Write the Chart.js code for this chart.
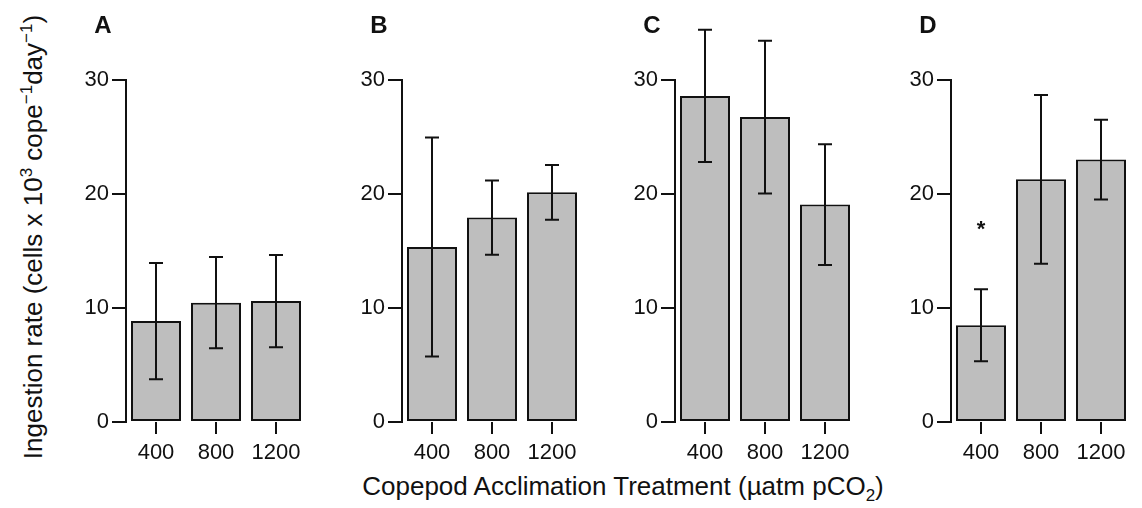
<!DOCTYPE html>
<html lang="en">
<head>
    <script src="https://cdn.jsdelivr.net/npm/chart.js"></script>
    <meta charset="UTF-8">
    <title>Ingestion rate by acclimation treatment</title>
    <style>
        body {
            margin: 0;
            background: #fff;
            font-family: "Liberation Sans", Arial, sans-serif;
            color: #111;
        }
        #wrap {
            position: relative;
            width: 1142px;
            height: 508px;
            overflow: hidden;
        }
        .panel {
            position: absolute;
            top: 0;
        }
        .letter {
            position: absolute;
            top: 11px;
            font-weight: bold;
            font-size: 24px;
            transform: translateX(-50%);
        }
        #ytitle {
            position: absolute;
            left: 33px;
            top: 237px;
            font-size: 26px;
            white-space: nowrap;
            transform: translate(-50%, -50%) rotate(-90deg);
        }
        #xtitle {
            position: absolute;
            left: 623px;
            top: 471px;
            font-size: 26px;
            white-space: nowrap;
            transform: translateX(-50%);
        }
        sup, sub { font-size: 17px; line-height: 0; }
    </style>
</head>
<body>
<div id="wrap">
    <div id="ytitle">Ingestion rate (cells x 10<sup>3</sup> cope<sup>&minus;1</sup>day<sup>&minus;1</sup>)</div>
    <div id="xtitle">Copepod Acclimation Treatment (&micro;atm pCO<sub>2</sub>)</div>
</div>

<script>
    // treatments on the x axis
    const categories = ['400', '800', '1200'];
    const yTicks = [0, 10, 20, 30];

    // mean ingestion rate and error (+/-) per panel
    const meansA = [8.85, 10.47, 10.61];
    const errA   = [5.1, 4.0, 4.05];
    const meansB = [15.35, 17.93, 20.15];
    const errB   = [9.6, 3.25, 2.4];
    const meansC = [28.6, 26.75, 19.07];
    const errC   = [5.8, 6.7, 5.3];
    const meansD = [8.48, 21.29, 23.02];
    const errD   = [3.16, 7.4, 3.5];

    // significance marks: [category index, y value]
    const starsD = [[0, 17.46]];

    const panelLetters = ['A', 'B', 'C', 'D'];
    const axisX = [126, 402, 675, 951];   // where each y axis line sits

    const panels = [
        {means: meansA, err: errA, stars: []},
        {means: meansB, err: errB, stars: []},
        {means: meansC, err: errC, stars: []},
        {means: meansD, err: errD, stars: starsD}
    ];

    const FONT = '"Liberation Sans", Arial, sans-serif';
    const INK = '#111';

    // error bars, the short R-style y axis line, and asterisks
    const extrasPlugin = {
        id: 'extras',
        afterDatasetsDraw(chart, args, opts) {
            const ctx = chart.ctx;
            const xs = chart.scales.x, ys = chart.scales.y;
            ctx.save();
            ctx.strokeStyle = INK;
            ctx.lineWidth = 2;
            // y axis line from 0 to 30 only
            const ax = chart.chartArea.left;
            ctx.beginPath();
            ctx.moveTo(ax, ys.getPixelForValue(yTicks[0]) + 1);
            ctx.lineTo(ax, ys.getPixelForValue(yTicks[yTicks.length - 1]) - 1);
            ctx.stroke();
            // error bars
            opts.means.forEach((m, i) => {
                const x = xs.getPixelForValue(i);
                const top = ys.getPixelForValue(m + opts.err[i]);
                const bot = ys.getPixelForValue(m - opts.err[i]);
                ctx.beginPath();
                ctx.moveTo(x, top); ctx.lineTo(x, bot);
                ctx.moveTo(x - 7, top); ctx.lineTo(x + 7, top);
                ctx.moveTo(x - 7, bot); ctx.lineTo(x + 7, bot);
                ctx.stroke();
            });
            // asterisks
            ctx.fillStyle = INK;
            ctx.font = 'bold 22px ' + FONT;
            ctx.textAlign = 'center';
            ctx.textBaseline = 'alphabetic';
            opts.stars.forEach(s => {
                ctx.fillText('*', xs.getPixelForValue(s[0]), ys.getPixelForValue(s[1]) + 13);
            });
            ctx.restore();
        }
    };

    const wrap = document.getElementById('wrap');

    panels.forEach((p, k) => {
        const box = document.createElement('div');
        box.className = 'panel';
        box.style.left = (axisX[k] - 50) + 'px';
        const cv = document.createElement('canvas');
        cv.width = 240;
        cv.height = 470;
        box.appendChild(cv);
        wrap.appendChild(box);

        const lt = document.createElement('div');
        lt.className = 'letter';
        lt.style.left = (axisX[k] - 23) + 'px';
        lt.textContent = panelLetters[k];
        wrap.appendChild(lt);

        new Chart(cv.getContext('2d'), {
            type: 'bar',
            data: {
                labels: categories,
                datasets: [{
                    data: p.means,
                    backgroundColor: '#bebebe',
                    borderColor: INK,
                    borderWidth: 2,
                    borderSkipped: false,
                    categoryPercentage: 1,
                    barPercentage: 0.8333
                }]
            },
            options: {
                responsive: false,
                animation: false,
                devicePixelRatio: 1,
                layout: {padding: {top: 23, left: 0, right: 10, bottom: 0}},
                plugins: {
                    legend: {display: false},
                    tooltip: {enabled: false},
                    extras: {means: p.means, err: p.err, stars: p.stars}
                },
                scales: {
                    x: {
                        offset: true,
                        border: {display: false},
                        grid: {
                            offset: false,
                            drawOnChartArea: false,
                            drawTicks: true,
                            tickLength: 12,
                            color: INK,
                            lineWidth: 2
                        },
                        ticks: {
                            color: INK,
                            padding: 6,
                            font: {family: FONT, size: 22}
                        },
                        afterFit: s => { s.height = 48; }
                    },
                    y: {
                        min: 0,
                        max: 35,
                        border: {display: false},
                        afterBuildTicks: s => { s.ticks = yTicks.map(v => ({value: v})); },
                        grid: {
                            drawOnChartArea: false,
                            drawTicks: true,
                            tickLength: 14,
                            color: INK,
                            lineWidth: 2
                        },
                        ticks: {
                            color: INK,
                            padding: 3,
                            font: {family: FONT, size: 22}
                        },
                        afterFit: s => { s.width = 50; }
                    }
                }
            },
            plugins: [extrasPlugin]
        });
    });
</script>
</body>
</html>
